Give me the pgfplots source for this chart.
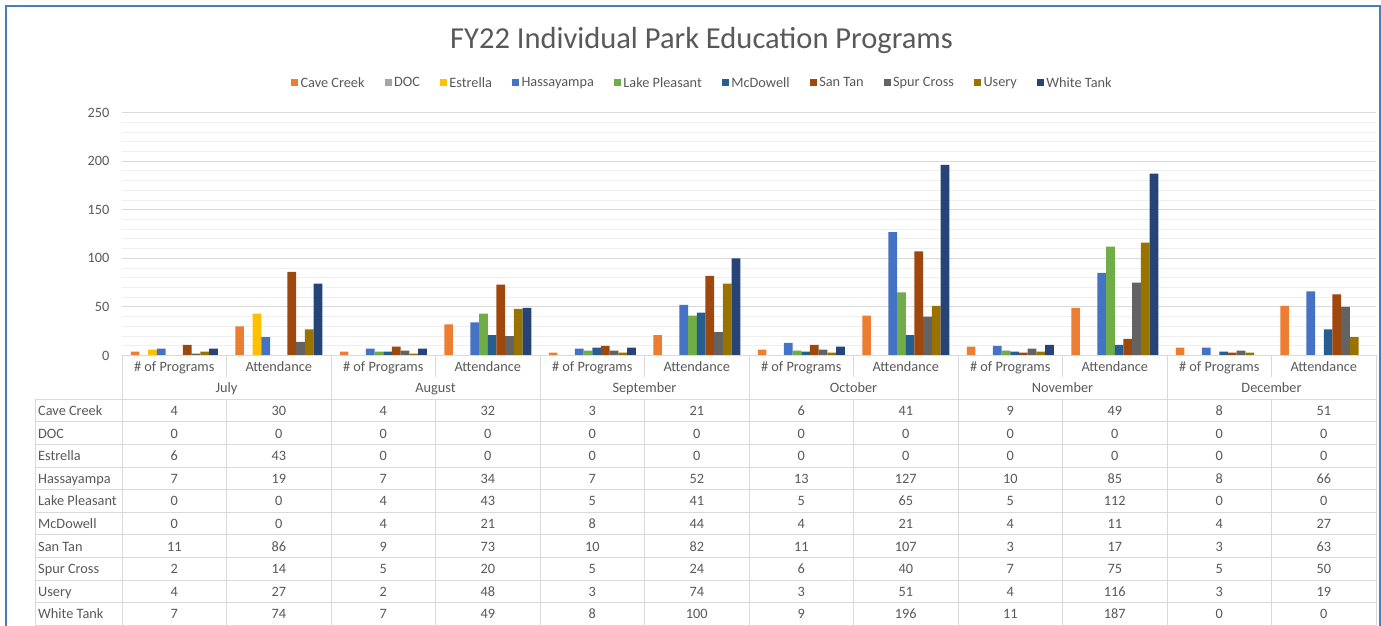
\documentclass[border=0pt]{standalone}
\usepackage{fontspec}
\setmainfont{Carlito}
\usepackage{pgfplots}
\usepackage{pgfplotstable}
\pgfplotsset{compat=1.18}
\definecolor{txt}{HTML}{595959}
\definecolor{gridmaj}{HTML}{D9D9D9}
\definecolor{gridmin}{HTML}{EFEFEF}
\definecolor{tline}{HTML}{D9D9D9}
\definecolor{frame}{HTML}{4A7EBB}
\definecolor{cCaveCreek}{HTML}{ED7D31}
\definecolor{cDOC}{HTML}{A5A5A5}
\definecolor{cEstrella}{HTML}{FFC000}
\definecolor{cHassayampa}{HTML}{4472C4}
\definecolor{cLakePleasant}{HTML}{70AD47}
\definecolor{cMcDowell}{HTML}{255E91}
\definecolor{cSanTan}{HTML}{9E480E}
\definecolor{cSpurCross}{HTML}{636363}
\definecolor{cUsery}{HTML}{997300}
\definecolor{cWhiteTank}{HTML}{264478}
\pgfplotstableread{
x CaveCreek DOC Estrella Hassayampa LakePleasant McDowell SanTan SpurCross Usery WhiteTank
0 4 0 6 7 0 0 11 2 4 7
1 30 0 43 19 0 0 86 14 27 74
2 4 0 0 7 4 4 9 5 2 7
3 32 0 0 34 43 21 73 20 48 49
4 3 0 0 7 5 8 10 5 3 8
5 21 0 0 52 41 44 82 24 74 100
6 6 0 0 13 5 4 11 6 3 9
7 41 0 0 127 65 21 107 40 51 196
8 9 0 0 10 5 4 3 7 4 11
9 49 0 0 85 112 11 17 75 116 187
10 8 0 0 8 0 4 3 5 3 0
11 51 0 0 66 0 27 63 50 19 0
}\datatable
\newcommand{\tf}{\fontsize{14.3}{16}\selectfont}
\begin{document}
\begin{tikzpicture}
\useasboundingbox (0,0) rectangle (1381pt,626pt);
\fill[white] (0,0) rectangle (1381pt,626pt);
% title
\node[text=txt,font=\fontsize{30.5}{34}\selectfont] at (701.5pt,585pt) {FY22 Individual Park Education Programs};
\begin{axis}[
  at={(122pt,270.5pt)}, anchor=south west,
  scale only axis, width=1254pt, height=243pt,
  xmin=-0.5, xmax=11.5, ymin=0, ymax=250,
  xtick=\empty,
  ytick={0,50,...,250},
  minor y tick num=4,
  ymajorgrids, yminorgrids,
  major grid style={gridmaj, line width=0.8pt},
  minor grid style={gridmin, line width=0.8pt},
  axis line style={draw=none},
  tick style={draw=none},
  major tick length=0pt, minor tick length=0pt,
  /pgf/number format/assume math mode=true,
  yticklabel style={font=\tf, text=txt, xshift=-9pt},
  ybar=0pt, bar width=8.7pt,
  every axis plot/.append style={draw=none},
  every axis plot post/.append style={legend image code/.code={\fill[##1,draw=none] (0pt,-3.5pt) rectangle (7pt,3.5pt);}},
  legend columns=10,
  legend style={at={(axis description cs:0.463,1.1214)}, anchor=center, draw=none, fill=none,
    font=\tf, text=txt, nodes={inner sep=2.5pt},
    /tikz/every even column/.append style={column sep=17.5pt}},
]
\addplot[fill=cCaveCreek] table[x=x,y=CaveCreek]{\datatable};
\addplot[fill=cDOC] table[x=x,y=DOC]{\datatable};
\addplot[fill=cEstrella] table[x=x,y=Estrella]{\datatable};
\addplot[fill=cHassayampa] table[x=x,y=Hassayampa]{\datatable};
\addplot[fill=cLakePleasant] table[x=x,y=LakePleasant]{\datatable};
\addplot[fill=cMcDowell] table[x=x,y=McDowell]{\datatable};
\addplot[fill=cSanTan] table[x=x,y=SanTan]{\datatable};
\addplot[fill=cSpurCross] table[x=x,y=SpurCross]{\datatable};
\addplot[fill=cUsery] table[x=x,y=Usery]{\datatable};
\addplot[fill=cWhiteTank] table[x=x,y=WhiteTank]{\datatable};
\legend{Cave Creek, DOC, Estrella, Hassayampa, Lake Pleasant, McDowell, San Tan, Spur Cross, Usery, White Tank}
\end{axis}
% data table lines
\begin{scope}[tline, line width=1pt]
  \draw (122pt,270.5pt) -- (1376pt,270.5pt);
  \foreach \k in {0,...,6}{
    \pgfmathsetmacro\xx{122+\k*209}
    \draw (\xx pt,270.5pt) -- (\xx pt,0pt);
  }
  \foreach \k in {0,...,5}{
    \pgfmathsetmacro\xx{226.5+\k*209}
    \draw (\xx pt,270.5pt) -- (\xx pt,249pt);
    \draw (\xx pt,226.7pt) -- (\xx pt,0pt);
  }
  \foreach \r in {0,...,10}{
    \pgfmathsetmacro\yy{626-399.3-\r*22.6}
    \draw (35pt,\yy pt) -- (1376pt,\yy pt);
  }
  \draw (35pt,226.7pt) -- (35pt,0pt);
\end{scope}
% header text
\foreach \k/\m in {0/July,1/August,2/September,3/October,4/November,5/December}{
  \pgfmathsetmacro\xa{122+\k*209+52.25}
  \pgfmathsetmacro\xb{122+\k*209+156.75}
  \pgfmathsetmacro\xc{122+\k*209+104.5}
  \node[anchor=base,font=\tf,text=txt] at (\xa pt,254pt) {\# of Programs};
  \node[anchor=base,font=\tf,text=txt] at (\xb pt,254pt) {Attendance};
  \node[anchor=base,font=\tf,text=txt] at (\xc pt,233pt) {\m};
}
% table body
\foreach \c/\name [count=\r from 0] in {CaveCreek/Cave Creek, DOC/DOC, Estrella/Estrella, Hassayampa/Hassayampa, LakePleasant/Lake Pleasant, McDowell/McDowell, SanTan/San Tan, SpurCross/Spur Cross, Usery/Usery, WhiteTank/White Tank}{
  \pgfmathsetmacro\yy{626-415.6-\r*22.6}
  \node[anchor=base west,font=\tf,text=txt,inner sep=0pt] at (38pt,\yy pt) {\name};
  \foreach \i in {0,...,11}{
    \pgfplotstablegetelem{\i}{\c}\of\datatable
    \pgfmathsetmacro\xx{122+(\i+0.5)*104.5}
    \node[anchor=base,font=\tf,text=txt,inner sep=0pt] at (\xx pt,\yy pt) {\pgfplotsretval};
  }
}
% outer frame
\draw[frame, line width=2pt] (6pt,0pt) -- (6pt,620pt) -- (1379.5pt,620pt) -- (1379.5pt,0pt);
\end{tikzpicture}
\end{document}
